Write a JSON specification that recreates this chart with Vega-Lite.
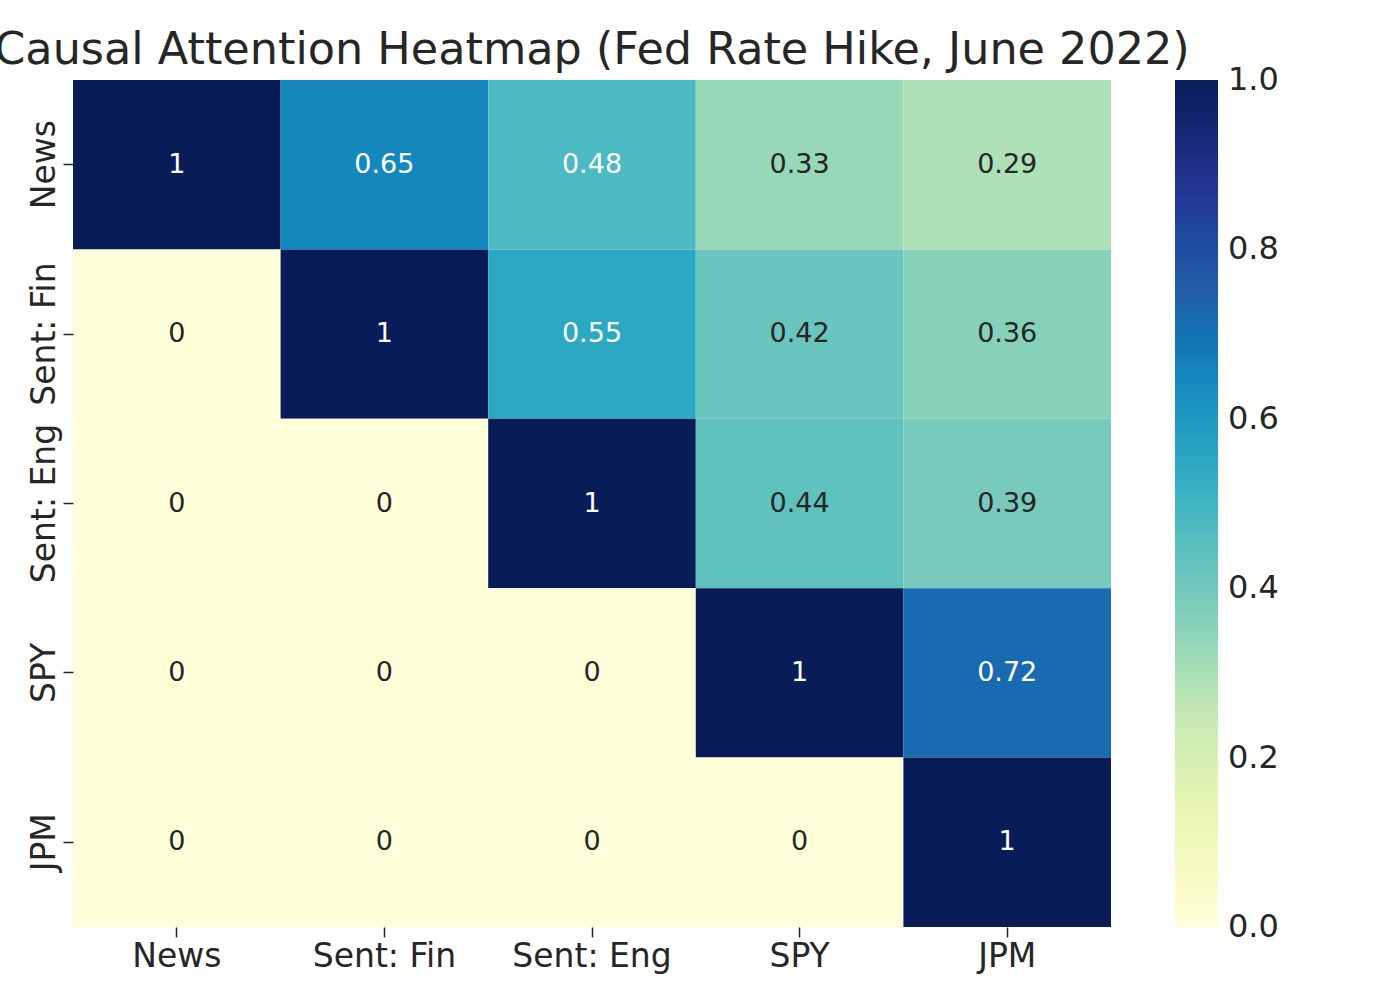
{
  "$schema": "https://vega.github.io/schema/vega-lite/v6.json",
  "autosize": {"type": "none"},
  "width": 1038,
  "height": 847,
  "padding": {"left": 73, "top": 80, "right": 289, "bottom": 73},
  "background": "white",
  "config": {
    "font": "DejaVu Sans",
    "view": {"stroke": null},
    "axis": {"labelFont": "DejaVu Sans", "labelColor": "#262626", "tickColor": "#262626"}
  },
  "title": {
    "text": "Causal Attention Heatmap (Fed Rate Hike, June 2022)",
    "fontSize": 44.5,
    "fontWeight": "normal",
    "color": "#262626",
    "anchor": "middle",
    "baseline": "bottom",
    "offset": 8,
    "dy": 45
  },
  "data": {
    "values": [
      {"row": "News", "col": "News", "v": 1},
      {"row": "News", "col": "Sent: Fin", "v": 0.65},
      {"row": "News", "col": "Sent: Eng", "v": 0.48},
      {"row": "News", "col": "SPY", "v": 0.33},
      {"row": "News", "col": "JPM", "v": 0.29},
      {"row": "Sent: Fin", "col": "News", "v": 0},
      {"row": "Sent: Fin", "col": "Sent: Fin", "v": 1},
      {"row": "Sent: Fin", "col": "Sent: Eng", "v": 0.55},
      {"row": "Sent: Fin", "col": "SPY", "v": 0.42},
      {"row": "Sent: Fin", "col": "JPM", "v": 0.36},
      {"row": "Sent: Eng", "col": "News", "v": 0},
      {"row": "Sent: Eng", "col": "Sent: Fin", "v": 0},
      {"row": "Sent: Eng", "col": "Sent: Eng", "v": 1},
      {"row": "Sent: Eng", "col": "SPY", "v": 0.44},
      {"row": "Sent: Eng", "col": "JPM", "v": 0.39},
      {"row": "SPY", "col": "News", "v": 0},
      {"row": "SPY", "col": "Sent: Fin", "v": 0},
      {"row": "SPY", "col": "Sent: Eng", "v": 0},
      {"row": "SPY", "col": "SPY", "v": 1},
      {"row": "SPY", "col": "JPM", "v": 0.72},
      {"row": "JPM", "col": "News", "v": 0},
      {"row": "JPM", "col": "Sent: Fin", "v": 0},
      {"row": "JPM", "col": "Sent: Eng", "v": 0},
      {"row": "JPM", "col": "SPY", "v": 0},
      {"row": "JPM", "col": "JPM", "v": 1}
    ]
  },
  "encoding": {
    "x": {
      "field": "col", "type": "nominal",
      "sort": ["News", "Sent: Fin", "Sent: Eng", "SPY", "JPM"],
      "scale": {"paddingInner": 0, "paddingOuter": 0},
      "axis": {"title": null, "labelAngle": 0, "labelFontSize": 33, "tickSize": 10, "tickWidth": 1.5, "labelPadding": 3, "domain": false}
    },
    "y": {
      "field": "row", "type": "nominal",
      "sort": ["News", "Sent: Fin", "Sent: Eng", "SPY", "JPM"],
      "scale": {"paddingInner": 0, "paddingOuter": 0},
      "axis": {"title": null, "labelAngle": 270, "labelAlign": "center", "labelBaseline": "bottom", "labelFontSize": 33, "tickSize": 10, "tickWidth": 1.5, "labelPadding": 2, "domain": false}
    }
  },
  "layer": [
    {
      "mark": {"type": "rect"},
      "encoding": {
        "color": {
          "field": "v", "type": "quantitative",
          "scale": {
            "domain": [0, 0.125, 0.25, 0.375, 0.5, 0.625, 0.75, 0.875, 1],
            "range": ["#ffffd9", "#edf8b1", "#c7e9b4", "#7fcdbb", "#41b6c4", "#1d91c0", "#225ea8", "#253494", "#081d58"]
          },
          "legend": {
            "title": null,
            "orient": "none",
            "legendX": 1102,
            "legendY": 0,
            "direction": "vertical",
            "gradientLength": 847,
            "gradientThickness": 43,
            "gradientStrokeWidth": 0,
            "values": [0, 0.2, 0.4, 0.6, 0.8, 1.0],
            "format": ".1f",
            "labelFontSize": 32,
            "labelColor": "#262626",
            "labelFont": "DejaVu Sans",
            "labelBaseline": "middle",
            "labelOffset": 10,
            "labelOverlap": false,
            "encode": {"labels": {"update": {"baseline": {"value": "middle"}}}}
          }
        }
      }
    },
    {
      "mark": {"type": "text", "fontSize": 27, "font": "DejaVu Sans"},
      "encoding": {
        "text": {"field": "v", "type": "quantitative", "format": "~g"},
        "color": {
          "condition": {"test": "datum.v > 0.45", "value": "white"},
          "value": "#262626"
        }
      }
    }
  ]
}
